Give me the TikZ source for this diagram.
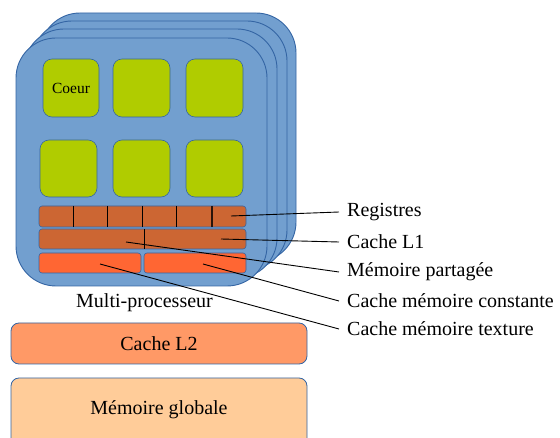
\documentclass[tikz,border=0pt]{standalone}
\usepackage{fontspec}
\setmainfont{Liberation Serif}
\definecolor{boardfill}{RGB}{114,159,207}
\definecolor{boardline}{RGB}{52,101,164}
\definecolor{corefill}{RGB}{176,204,0}
\definecolor{regfill}{RGB}{204,102,51}
\definecolor{shfill}{RGB}{255,102,51}
\definecolor{ltwofill}{RGB}{255,153,102}
\definecolor{globfill}{RGB}{255,204,153}
\tikzset{
  board/.style={fill=boardfill, draw=boardline, line width=0.9pt, rounded corners=40pt},
  corebox/.style={fill=corefill, draw=boardline, line width=0.6pt, rounded corners=9pt},
  regbox/.style={fill=regfill, draw=boardline, line width=0.6pt, rounded corners=3pt},
  shbox/.style={fill=shfill, draw=boardline, line width=0.6pt, rounded corners=3pt},
  membox/.style={draw=boardline, line width=0.8pt, rounded corners=8pt},
  divline/.style={black, line width=0.8pt},
  leader/.style={black, line width=0.9pt},
  lbl/.style={anchor=west, inner xsep=8pt, inner ysep=0pt, font=\fontsize{20}{24}\selectfont}
}
\begin{document}
\begin{tikzpicture}[x=1pt,y=-1pt]
\useasboundingbox (0,0) rectangle (560,438);
\clip (0,0) rectangle (560,438);
% stacked multiprocessor boards
\draw[board] (40,13) rectangle (296,262);
\draw[board] (32,21) rectangle (287,270);
\draw[board] (24,29) rectangle (277,278);
\draw[board] (16,38) rectangle (267,286);
% cores
\draw[corebox] (43,59) rectangle (99,117);
\node[font=\fontsize{15.5}{18}\selectfont, inner sep=0pt] (coeur) at (71,88) {Coeur};
\draw[corebox] (113,59) rectangle (170,117);
\draw[corebox] (186,59) rectangle (243,117);
\draw[corebox] (40,140) rectangle (97,197);
\draw[corebox] (113,140) rectangle (170,197);
\draw[corebox] (186,140) rectangle (243,197);
% registers
\draw[regbox] (39,206) rectangle (246,227);
\foreach \x in {73,107,142,176} \draw[divline] (\x,206) -- (\x,227);
\draw[line width=1.1pt, black!80!regfill] (212,206) -- (212,227);
% L1
\draw[regbox] (39,229) rectangle (246,249);
\draw[divline] (144,229) -- (144,249);
% shared / constant / texture
\draw[shbox] (39,253) rectangle (141,273);
\draw[shbox] (144,253) rectangle (246,273);
% labels
\node[lbl] (lreg) at (339,212) {Registres};
\node[lbl] (ll1) at (339,242) {Cache L1};
\node[lbl] (lsh) at (339,272) {Mémoire partagée};
\node[lbl] (lcst) at (339,301) {Cache mémoire constante};
\node[lbl] (ltex) at (339,329) {Cache mémoire texture};
% leader start points
\coordinate (preg) at (231,216);
\coordinate (pl1) at (221,239);
\coordinate (psh) at (126,242);
\coordinate (pcst) at (203,264);
\coordinate (ptex) at (100,264);
\draw[leader] (preg) -- (lreg.west);
\draw[leader] (pl1) -- (ll1.west);
\draw[leader] (psh) -- (lsh.west);
\draw[leader] (pcst) -- (lcst.west);
\draw[leader] (ptex) -- (ltex.west);
% multi-processeur label
\node[font=\fontsize{20}{24}\selectfont, inner sep=0pt] (mp) at (144.5,303) {Multi-processeur};
% L2 and global memory
\draw[membox, fill=ltwofill] (11,323) rectangle (307,364);
\node[font=\fontsize{20}{24}\selectfont, inner sep=0pt] (l2) at (159,344) {Cache L2};
\draw[membox, fill=globfill] (11,378) rectangle (307,450);
\node[font=\fontsize{20}{24}\selectfont, inner sep=0pt] (glob) at (159,410) {Mémoire globale};
\end{tikzpicture}
\end{document}
